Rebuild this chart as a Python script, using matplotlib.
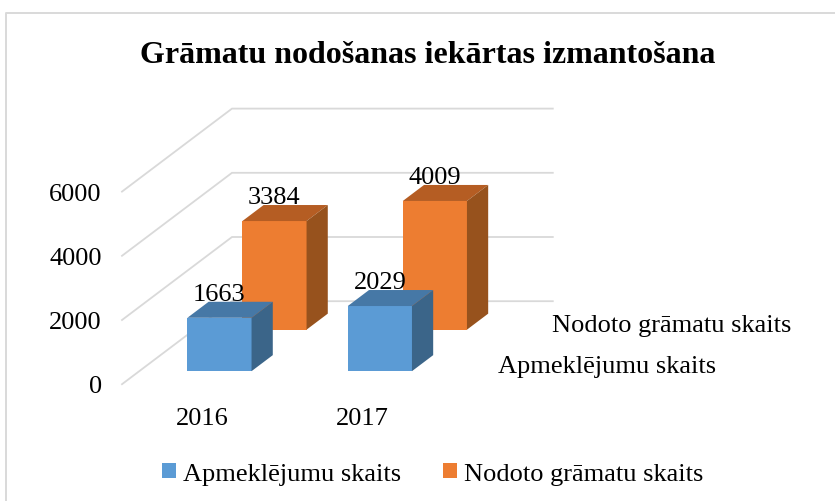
import matplotlib
matplotlib.use('Agg')
import matplotlib.pyplot as plt
from matplotlib.patches import Polygon, Patch

plt.rcParams['font.family'] = ['Liberation Serif', 'DejaVu Serif']

# data
title = 'Grāmatu nodošanas iekārtas izmantošana'
years = ['2016', '2017']
series_names = ['Apmeklējumu skaits', 'Nodoto grāmatu skaits']
apmeklejumi = [1663, 2029]
nodoto = [3384, 4009]
y_ticks = [0, 2000, 4000, 6000]

# colours: front, top, side
colors = [('#5B9BD5', '#4678A6', '#3B6589'),
          ('#ED7D31', '#B55D23', '#97521D')]
grid_color = '#D9D9D9'
text_size = 19

# sizes of the reference picture
W, H = 835, 502
x0_px, y0_px = 122, 385.2      # front left corner of the floor
cat_px = 160.4                 # one category
val_px = 64.2 / 2000           # pixels for one unit
depth_x = 110 / cat_px         # floor depth in x units
depth_y = 83 / val_px          # floor depth in y units


def shift(x, y, d):
    # oblique projection, d=0 front of floor, d=1 back of floor
    return x + d * depth_x, y + d * depth_y


fig = plt.figure(figsize=(W / 100, H / 100), dpi=100)
ax = fig.add_axes([0, 0, 1, 1])
ax.set_xlim(-x0_px / cat_px, (W - x0_px) / cat_px)
ax.set_ylim(-(H - y0_px) / val_px, y0_px / val_px)
ax.axis('off')

# outer chart border
fig.add_artist(plt.Line2D([6 / W, 6 / W, 1], [0, 1 - 14 / H, 1 - 14 / H],
                          color=grid_color, lw=1.4))

# gridlines
for v in y_ticks:
    bx, by = shift(0, v, 1)
    ex, ey = shift(2, v, 1)
    ax.plot([0, bx, ex], [v, by, ey], color=grid_color, lw=1.3, zorder=1,
            solid_joinstyle='miter')
    ax.annotate(str(v), (0, v), xytext=(-14.5, -1.5), textcoords='offset points',
                ha='right', va='center', fontsize=text_size, color='black')


def draw_bar(i, row, value, cols):
    w = 0.40
    left = i + 0.5 - w / 2
    d0 = row * 0.5 + 0.157
    d1 = d0 + 0.193
    xl, yb = shift(left, 0, d0)
    xr = xl + w
    yt = value + yb
    dx = (d1 - d0) * depth_x
    dy = (d1 - d0) * depth_y
    z = 3 - row
    ax.add_patch(Polygon([(xl, yb), (xr, yb), (xr, yt), (xl, yt)], fc=cols[0], ec='none', zorder=z))
    ax.add_patch(Polygon([(xl, yt), (xr, yt), (xr + dx, yt + dy), (xl + dx, yt + dy)], fc=cols[1], ec='none', zorder=z))
    ax.add_patch(Polygon([(xr, yb), (xr + dx, yb + dy), (xr + dx, yt + dy), (xr, yt)], fc=cols[2], ec='none', zorder=z))
    ax.annotate(str(value), ((xl + xr) / 2, yt), xytext=(0, 17), textcoords='offset points',
                ha='center', va='center', fontsize=text_size, color='black', zorder=10)


for row, vals in enumerate([apmeklejumi, nodoto]):
    for i, v in enumerate(vals):
        draw_bar(i, row, v, colors[row])

# category labels
for i, yr in enumerate(years):
    ax.annotate(yr, (i + 0.5, 0), xytext=(0, -24), textcoords='offset points',
                ha='center', va='center', fontsize=text_size)

# series labels on the depth axis
ax.text((498 - x0_px) / cat_px, (y0_px - 367) / val_px, series_names[0],
        ha='left', va='center', fontsize=text_size)
ax.text((552 - x0_px) / cat_px, (y0_px - 326) / val_px, series_names[1],
        ha='left', va='center', fontsize=text_size)

handles = [Patch(fc=colors[k][0], ec='none', label=series_names[k]) for k in range(2)]
ax.legend(handles=handles, ncol=2, frameon=False, fontsize=text_size,
          loc='center', bbox_to_anchor=(432.5 / W, 1 - 475 / H),
          handlelength=0.53, handleheight=0.53, handletextpad=0.25, columnspacing=1.6,
          borderpad=0, borderaxespad=0)

fig.text(428 / W, 1 - 55.5 / H, title, ha='center', va='center', fontsize=23, fontweight='bold')

fig.savefig('out.png', dpi=100, facecolor='white')
